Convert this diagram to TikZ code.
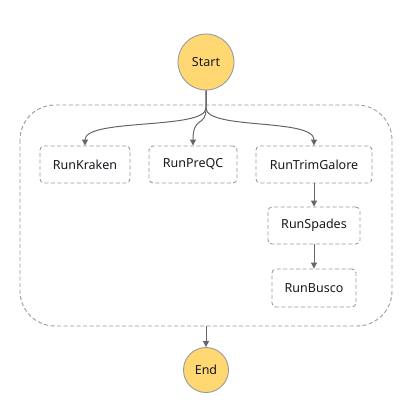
\documentclass[tikz,border=0pt]{standalone}
\usepackage{fontspec}
\setmainfont{Noto Sans}
\usetikzlibrary{arrows.meta}
\definecolor{startfill}{HTML}{FFD873}
\definecolor{edgegray}{HTML}{666666}
\definecolor{boxgray}{HTML}{9A9A9A}
\definecolor{txt}{HTML}{16191F}
\tikzset{
  statebox/.style={draw=boxgray, line width=0.9pt, dash pattern=on 4pt off 2.5pt, rounded corners=4pt, fill=white, font=\fontsize{12.5}{14}\selectfont, text=txt, inner sep=0pt},
  endpoint/.style={circle, draw=boxgray, line width=0.9pt, fill=startfill, font=\fontsize{12.5}{14}\selectfont, text=txt, inner sep=0pt},
  conn/.style={draw=edgegray, line width=1pt, -{Triangle[width=6pt,length=6pt]}}
}
\begin{document}
\begin{tikzpicture}[x=1pt,y=-1pt]
\useasboundingbox (0,0) rectangle (408,405);
\draw[boxgray, line width=0.9pt, dash pattern=on 4pt off 2.5pt, rounded corners=35pt] (20,105) rectangle (392,326);
\node[endpoint, minimum size=56pt] (start) at (206,62) {Start};
\node[endpoint, minimum size=45pt] (end) at (206,370) {End};
\node[statebox, minimum width=90pt, minimum height=37pt] (kraken) at (85,164.5) {RunKraken};
\node[statebox, minimum width=88pt, minimum height=37pt] (preqc) at (193,164.5) {RunPreQC};
\node[statebox, minimum width=116pt, minimum height=37pt] (trim) at (314,164.5) {RunTrimGalore};
\node[statebox, minimum width=92pt, minimum height=37pt] (spades) at (314,225.5) {RunSpades};
\node[statebox, minimum width=84pt, minimum height=38pt] (busco) at (314,288) {RunBusco};
\coordinate (par) at (206,326);
\draw[conn] (start.south) -- (206,108) .. controls (206,130) and (85,118) .. (kraken.north);
\draw[conn] (start.south) -- (206,108) .. controls (206,128) and (193,115) .. (preqc.north);
\draw[conn] (start.south) -- (206,108) .. controls (206,130) and (314,118) .. (trim.north);
\draw[conn] (trim.south) -- (spades.north);
\draw[conn] (spades.south) -- (busco.north);
\draw[conn] (par) -- (end.north);
\end{tikzpicture}
\end{document}
